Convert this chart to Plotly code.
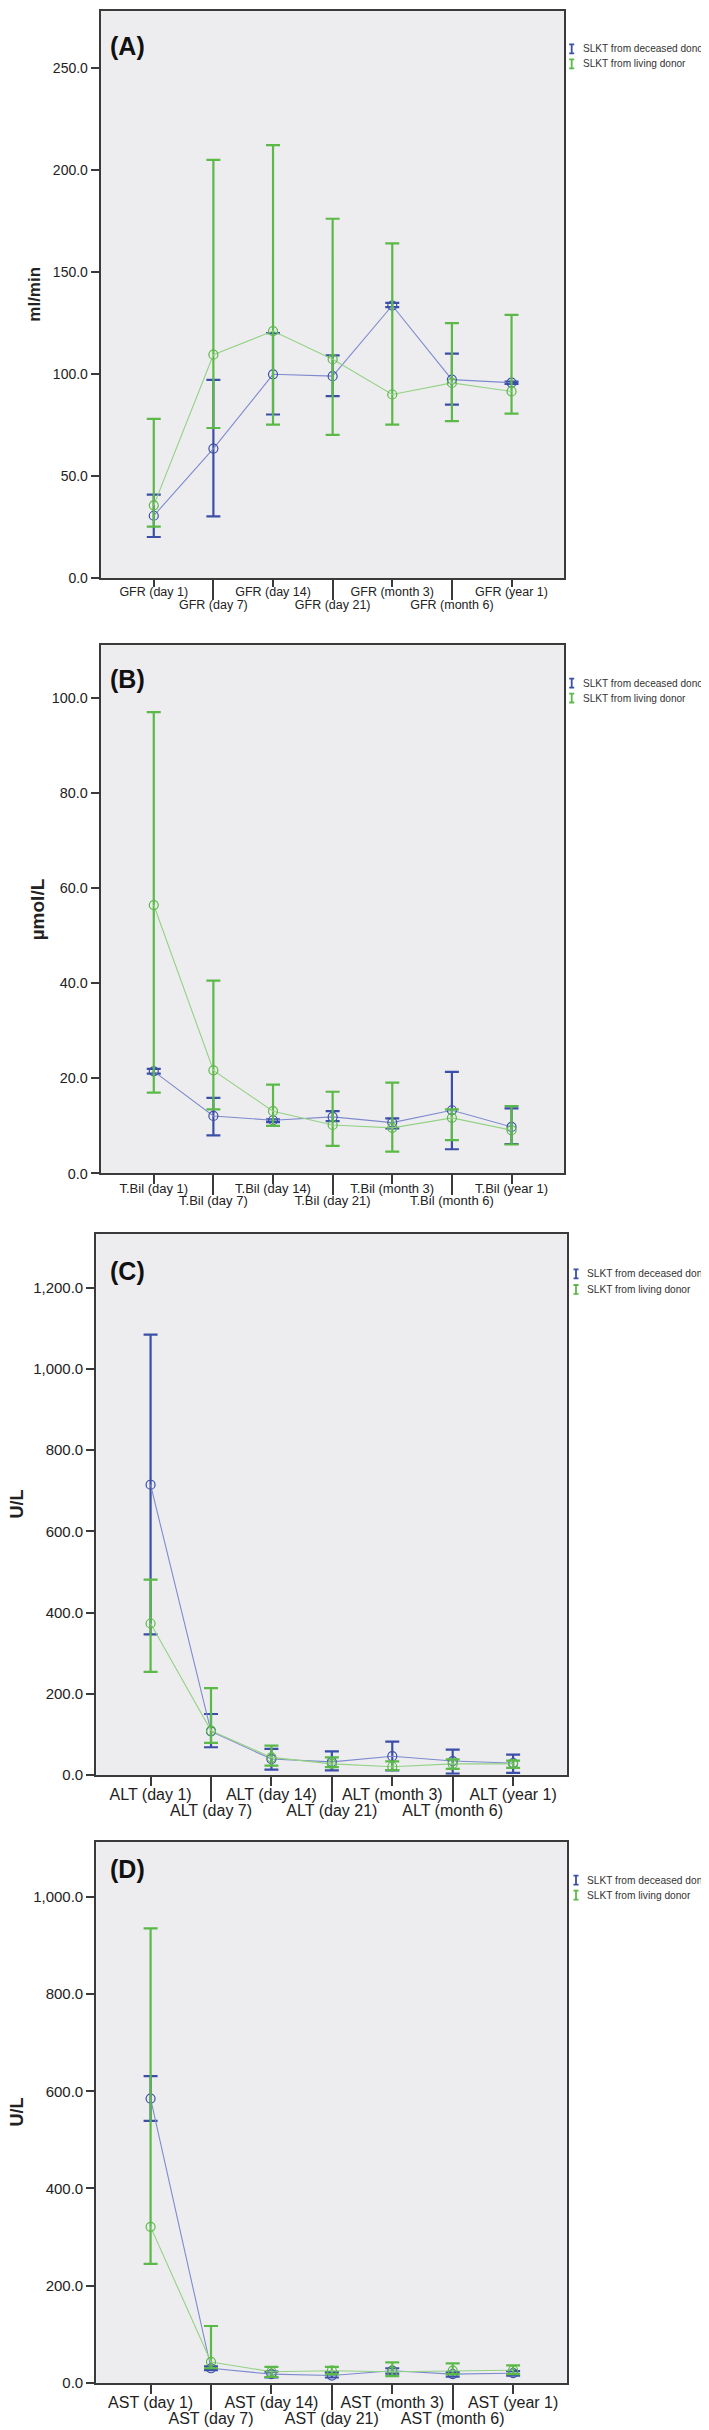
import plotly.graph_objects as go

W, H = 709, 2430

# ---------------- data ----------------
gfr_labels = ["GFR (day 1)", "GFR (day 7)", "GFR (day 14)", "GFR (day 21)",
              "GFR (month 3)", "GFR (month 6)", "GFR (year 1)"]
tbil_labels = ["T.Bil (day 1)", "T.Bil (day 7)", "T.Bil (day 14)", "T.Bil (day 21)",
               "T.Bil (month 3)", "T.Bil (month 6)", "T.Bil (year 1)"]
alt_labels = ["ALT (day 1)", "ALT (day 7)", "ALT (day 14)", "ALT (day 21)",
              "ALT (month 3)", "ALT (month 6)", "ALT (year 1)"]
ast_labels = ["AST (day 1)", "AST (day 7)", "AST (day 14)", "AST (day 21)",
              "AST (month 3)", "AST (month 6)", "AST (year 1)"]

series_names = ["SLKT from deceased donor", "SLKT from living donor"]

gfr_dec_mean = [30.7, 63.6, 100.0, 99.1, 133.7, 97.4, 95.9]
gfr_dec_upper = [41.1, 97.3, 120.2, 109.3, 135.0, 110.1, 96.4]
gfr_dec_lower = [20.3, 30.4, 80.3, 89.3, 132.9, 85.1, 95.3]
gfr_liv_mean = [35.8, 109.6, 121.2, 107.4, 90.1, 95.8, 91.6]
gfr_liv_upper = [78.2, 205.1, 212.3, 176.2, 164.1, 125.1, 129.1]
gfr_liv_lower = [25.4, 73.7, 75.3, 70.3, 75.3, 77.1, 80.7]

tbil_dec_mean = [21.5, 12.1, 11.2, 11.9, 10.7, 13.3, 9.8]
tbil_dec_upper = [22.0, 15.9, 11.4, 13.1, 11.6, 21.4, 13.7]
tbil_dec_lower = [21.0, 8.0, 10.8, 11.0, 9.5, 5.1, 6.2]
tbil_liv_mean = [56.5, 21.7, 13.1, 10.2, 9.6, 11.7, 9.1]
tbil_liv_upper = [97.1, 40.6, 18.7, 17.2, 19.1, 13.5, 14.2]
tbil_liv_lower = [17.0, 13.5, 10.0, 5.8, 4.6, 7.0, 6.1]

alt_dec_mean = [715, 107, 39, 32, 46, 34, 29]
alt_dec_upper = [1085, 150, 64, 58, 82, 62, 50]
alt_dec_lower = [346, 68, 13, 11, 11, 3, 5]
alt_liv_mean = [373, 109, 43, 27, 20, 27, 27]
alt_liv_upper = [481, 214, 72, 43, 33, 38, 35]
alt_liv_lower = [254, 79, 23, 19, 12, 15, 17]

ast_dec_mean = [585, 30, 18, 15, 25, 18, 20]
ast_dec_upper = [631, 34, 23, 22, 30, 22, 24]
ast_dec_lower = [539, 26, 11, 11, 19, 13, 15]
ast_liv_mean = [321, 43, 23, 25, 23, 25, 26]
ast_liv_upper = [935, 117, 33, 33, 42, 40, 36]
ast_liv_lower = [245, 30, 12, 18, 14, 18, 18]

y_titles = ["ml/min", "\u00b5mol/L", "U/L", "U/L"]
panel_tags = ["(A)", "(B)", "(C)", "(D)"]
y_ticks = [[0, 50, 100, 150, 200, 250],
           [0, 20, 40, 60, 80, 100],
           [0, 200, 400, 600, 800, 1000, 1200],
           [0, 200, 400, 600, 800, 1000]]
y_max = [278, 111.2, 1333, 1113]

# ---------------- styling / geometry ----------------
BLUE, BLUE_L = "#3B4FA8", "#7E8ACD"
GREEN, GREEN_L = "#5BB947", "#93D283"
BG = "#EDEDF0"
AXC = "#3a3a3a"
FONT = "Liberation Sans, Arial, sans-serif"

# pixel boxes: (left, right, top, bottom)
boxes = [(92.7, 556.0, 3.0, 572.3),
         (92.7, 556.0, 639.3, 1169.3),
         (88.2, 558.9, 1230.0, 1772.7),
         (88.2, 558.9, 1840.0, 2382.7)]
xr = [(-0.89, 6.88), (-0.89, 6.88), (-0.90, 6.89), (-0.90, 6.89)]
short_len = [7, 9, 9, 9]
long_len = [21, 21, 26, 26]
short_off = [-6, -7, -5, -5]
long_off = [-6, -6, -5, -5]
xfont = [12.5, 13, 16, 16]
yfont = [14, 14.4, 15, 15]
legend_fs = [10.1, 10.1, 10.2, 10.2]
legend_x = [563.7, 563.7, 568.0, 568.0]
legend_y = [(41, 56), (677.3, 692.3), (1270, 1285.7), (1878.3, 1893.3)]
tag_y = [38, 673, 1267.5, 1867]
ytitle_x = [27, 29, 9, 9]
ytitle_fs = [17, 19, 18, 18]

panels = [
    (gfr_labels, gfr_dec_mean, gfr_dec_upper, gfr_dec_lower, gfr_liv_mean, gfr_liv_upper, gfr_liv_lower),
    (tbil_labels, tbil_dec_mean, tbil_dec_upper, tbil_dec_lower, tbil_liv_mean, tbil_liv_upper, tbil_liv_lower),
    (alt_labels, alt_dec_mean, alt_dec_upper, alt_dec_lower, alt_liv_mean, alt_liv_upper, alt_liv_lower),
    (ast_labels, ast_dec_mean, ast_dec_upper, ast_dec_lower, ast_liv_mean, ast_liv_upper, ast_liv_lower),
]


def px(x):
    return x / W


def py(y):
    return 1 - y / H


fig = go.Figure()
layout = dict(width=W, height=H, margin=dict(l=0, r=0, t=0, b=0),
              paper_bgcolor="white", plot_bgcolor=BG, showlegend=False,
              font=dict(family=FONT, color="#222"))
annotations = []
shapes = []

for i, (labels, dm, du, dl, lm, lu, ll) in enumerate(panels):
    n = i + 1
    xa = "x" if n == 1 else f"x{n}"
    ya = "y" if n == 1 else f"y{n}"
    xo = f"x{n + 4}"
    L, R, T, B = boxes[i]
    xdom = [px(L), px(R)]
    ydom = [py(B), py(T)]
    idx = list(range(len(labels)))

    for mean, up, lo, dark, light in [(dm, du, dl, BLUE, BLUE_L), (lm, lu, ll, GREEN, GREEN_L)]:
        fig.add_trace(go.Scatter(
            x=idx, y=mean, mode="lines+markers", xaxis=xa, yaxis=ya,
            line=dict(color=light, width=1.1),
            marker=dict(symbol="circle-open", size=9, color=dark, line=dict(width=1.2)),
            error_y=dict(type="data", symmetric=False,
                         array=[u - m for u, m in zip(up, mean)],
                         arrayminus=[m - l for m, l in zip(mean, lo)],
                         color=dark, thickness=2.2, width=7),
            hoverinfo="skip"))
    # dummy trace to activate overlay axis
    fig.add_trace(go.Scatter(x=[None], y=[None], xaxis=xo, yaxis=ya, hoverinfo="skip"))

    layout["xaxis" if n == 1 else f"xaxis{n}"] = dict(
        domain=xdom, anchor=ya, range=list(xr[i]),
        tickmode="array", tickvals=idx[0::2], ticktext=labels[0::2],
        ticks="outside", ticklen=short_len[i], tickwidth=1.5, tickcolor=AXC,
        ticklabelstandoff=short_off[i],
        showline=True, linecolor=AXC, linewidth=2, mirror=True,
        showgrid=False, zeroline=False,
        tickfont=dict(size=xfont[i], color="#222", family=FONT))
    layout[f"xaxis{n + 4}"] = dict(
        domain=xdom, anchor=ya, overlaying=xa, range=list(xr[i]),
        tickmode="array", tickvals=idx[1::2], ticktext=labels[1::2],
        ticks="outside", ticklen=long_len[i], tickwidth=1.5, tickcolor=AXC,
        ticklabelstandoff=long_off[i],
        showline=False, showgrid=False, zeroline=False, side="bottom",
        tickfont=dict(size=xfont[i], color="#222", family=FONT))
    layout["yaxis" if n == 1 else f"yaxis{n}"] = dict(
        domain=ydom, anchor=xa, range=[0, y_max[i]],
        tickmode="array", tickvals=y_ticks[i], tickformat=",.1f",
        ticks="outside", ticklen=8, tickwidth=1.5, tickcolor=AXC,
        showline=True, linecolor=AXC, linewidth=2, mirror=True,
        showgrid=False, zeroline=False,
        tickfont=dict(size=yfont[i], color="#222", family=FONT))

    # panel tag
    annotations.append(dict(text=f"<b>{panel_tags[i]}</b>", xref="paper", yref="paper",
                            x=px(100), y=py(tag_y[i]), xanchor="left", yanchor="middle",
                            showarrow=False, font=dict(size=25, color="#111", family=FONT)))
    # y title
    annotations.append(dict(text=f"<b>{y_titles[i]}</b>", xref="paper", yref="paper",
                            x=px(ytitle_x[i]), y=py((T + B) / 2), xanchor="center", yanchor="middle",
                            textangle=-90, showarrow=False,
                            font=dict(size=ytitle_fs[i], color="#222", family=FONT)))
    # legend
    for (name, col, yy) in zip(series_names, [BLUE, GREEN], legend_y[i]):
        lx = legend_x[i]
        annotations.append(dict(text=name, xref="paper", yref="paper",
                                x=px(lx + 9.0), y=py(yy), xanchor="left", yanchor="middle",
                                showarrow=False,
                                font=dict(size=legend_fs[i], color="#333", family=FONT)))
        path = (f"M {px(lx - 2.5)},{py(yy - 4.5)} L {px(lx + 2.5)},{py(yy - 4.5)} "
                f"M {px(lx)},{py(yy - 4.5)} L {px(lx)},{py(yy + 4.5)} "
                f"M {px(lx - 2.5)},{py(yy + 4.5)} L {px(lx + 2.5)},{py(yy + 4.5)}")
        shapes.append(dict(type="path", path=path, xref="paper", yref="paper",
                           line=dict(color=col, width=1.8)))

layout["annotations"] = annotations
layout["shapes"] = shapes
fig.update_layout(**layout)
fig.write_html("out.html")
